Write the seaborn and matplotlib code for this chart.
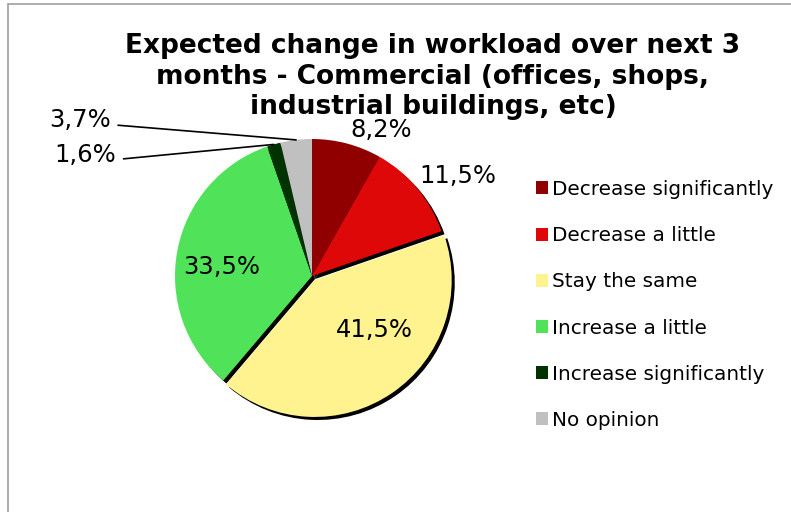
import matplotlib
matplotlib.use("Agg")
import matplotlib.pyplot as plt
import seaborn as sns
import numpy as np
from matplotlib.lines import Line2D
from matplotlib.patches import Patch

categories = ["Decrease significantly", "Decrease a little", "Stay the same",
              "Increase a little", "Increase significantly", "No opinion"]
values = [8.2, 11.5, 41.5, 33.5, 1.6, 3.7]
value_labels = ["8,2%", "11,5%", "41,5%", "33,5%", "1,6%", "3,7%"]
colors = ["#900000", "#DE0808", "#FFF38F", "#50E35A", "#003300", "#C0C0C0"]
title = "Expected change in workload over next 3\nmonths - Commercial (offices, shops,\nindustrial buildings, etc)"

sns.set_theme(style="white")
plt.rcParams['font.family'] = ['DejaVu Sans']
plt.rcParams['text.color'] = 'black'

W, H, DPI = 7.91, 5.12, 100
fig = plt.figure(figsize=(W, H), dpi=DPI)
fig.patch.set_facecolor("white")

# pie axes: center (312,276) px, radius 137 px
cx, cy, r = 312, 276, 137
ax = fig.add_axes([(cx - r) / 791, (512 - cy - r) / 512, 2 * r / 791, 2 * r / 512])
ax.axis("off")

explode = [0, 0, 0.035, 0, 0, 0]
wedges, _ = ax.pie(values, colors=colors, startangle=90, counterclock=False,
                   explode=explode, radius=1.0,
                   shadow=dict(ox=0.016, oy=-0.016, facecolor="black", alpha=1.0),
                   wedgeprops=dict(linewidth=0))
ax.set_xlim(-1, 1)
ax.set_ylim(-1, 1)
ax.set_aspect("equal")

# label placement (radius, angle nudge, ha)
label_style = [(1.10, 0, "left"), (1.07, 3, "left"), (0.60, 15.0, "center"),
               (0.66, 5.0, "center")]
for i, (w, lab) in enumerate(zip(wedges, value_labels)):
    mid = np.deg2rad((w.theta1 + w.theta2) / 2)
    if i < 4:
        rr, nudge, ha = label_style[i]
        a = mid + np.deg2rad(nudge)
        ax.text(rr * np.cos(a), rr * np.sin(a), lab, ha=ha, va="center",
                fontsize=17.5, color="black", clip_on=False)

# leader-line labels for small slices
leader_text = {4: (-1.43, 0.885), 5: (-1.47, 1.14)}
for i, (tx, ty) in leader_text.items():
    w = wedges[i]
    mid = np.deg2rad((w.theta1 + w.theta2) / 2)
    ax.annotate(value_labels[i], xy=(np.cos(mid), np.sin(mid)), xytext=(tx, ty),
                ha="right", va="center", fontsize=17.5, color="black",
                annotation_clip=False,
                arrowprops=dict(arrowstyle="-", color="black", lw=1.2,
                                shrinkA=3, shrinkB=0, relpos=(1.0, 0.3)))

fig.text(433 / 791, 1 - 76.5 / 512, title, ha="center", va="center",
         fontsize=19, fontweight="bold", linespacing=1.24, color="black")

handles = [Patch(facecolor=c, edgecolor="none") for c in colors]
leg = fig.legend(handles, categories, loc="upper left",
                 bbox_to_anchor=(528 / 791, 1 - 172 / 512), frameon=False,
                 fontsize=14.4, handlelength=0.62, handleheight=0.62,
                 handletextpad=0.2, labelspacing=1.36, borderaxespad=0)
for t in leg.get_texts():
    t.set_color("black")

# outer frame lines (top and left)
fig.add_artist(Line2D([8 / 791, 1], [1 - 4 / 512, 1 - 4 / 512],
                      transform=fig.transFigure, color="#A0A0A0", lw=1.2))
fig.add_artist(Line2D([8 / 791, 8 / 791], [0, 1 - 4 / 512],
                      transform=fig.transFigure, color="#A0A0A0", lw=1.2))

fig.savefig("out.png", dpi=DPI)
